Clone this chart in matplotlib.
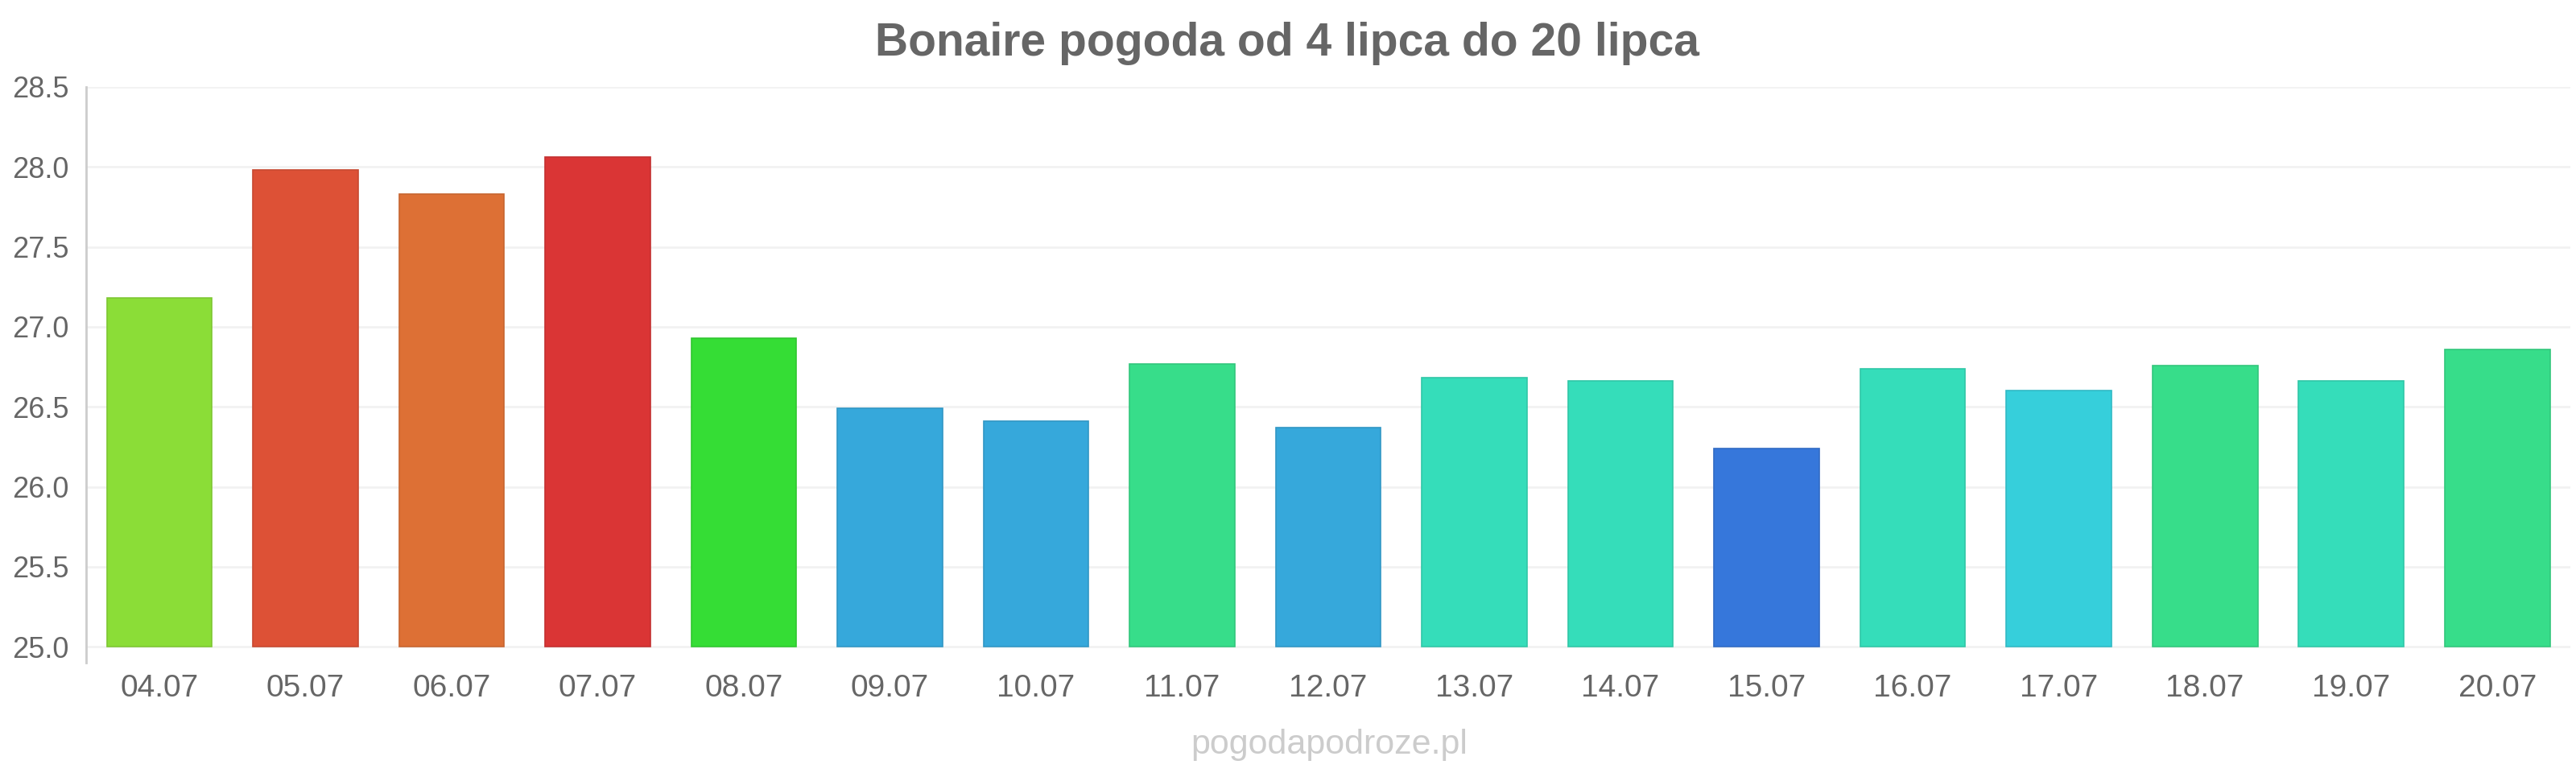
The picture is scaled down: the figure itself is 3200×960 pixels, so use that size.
import matplotlib.pyplot as plt
import matplotlib.colors as mcolors
import numpy as np

days = ['04.07', '05.07', '06.07', '07.07', '08.07', '09.07', '10.07', '11.07', '12.07',
        '13.07', '14.07', '15.07', '16.07', '17.07', '18.07', '19.07', '20.07']
temps = [27.18, 27.98, 27.83, 28.06, 26.93, 26.49, 26.41, 26.77, 26.37,
         26.68, 26.66, 26.24, 26.74, 26.60, 26.76, 26.66, 26.86]
colors = ['#8bdd37', '#dd5136', '#dd7035', '#da3535', '#35dd35', '#36a8db', '#36a8db',
          '#37dd8a', '#36a8db', '#35ddba', '#35ddba', '#3677db', '#35ddba', '#36cfdb',
          '#37dd8a', '#35ddba', '#37dd8a']
y_ticks = [25.0, 25.5, 26.0, 26.5, 27.0, 27.5, 28.0, 28.5]

title = 'Bonaire pogoda od 4 lipca do 20 lipca'
watermark = 'pogodapodroze.pl'

plt.rcParams['font.family'] = ['Liberation Sans', 'DejaVu Sans']

fig = plt.figure(figsize=(32, 9.6), dpi=100)
ax = fig.add_axes([0.0335, 0.1427, 0.9643, 0.7448])

base = 25.0
x = np.arange(len(days))
edges = [tuple(c * 0.9 for c in mcolors.to_rgb(col)) for col in colors]
ax.bar(x, [t - base for t in temps], bottom=base, width=0.72,
       color=colors, edgecolor=edges, linewidth=1.2, zorder=3)

ax.set_xlim(-0.5, len(days) - 0.5)
ax.set_ylim(24.9, 28.5)
ax.set_yticks(y_ticks)
ax.set_yticklabels([f'{v:.1f}' for v in y_ticks])
ax.set_xticks(x)
ax.set_xticklabels(days)

ax.grid(axis='y', color='#f2f2f2', linewidth=2, zorder=0)
ax.tick_params(axis='both', length=0, labelcolor='#666666')
ax.tick_params(axis='y', pad=15.5, labelsize=26)
ax.tick_params(axis='x', pad=10, labelsize=28)

for side in ['top', 'right', 'bottom']:
    ax.spines[side].set_visible(False)
ax.spines['left'].set_color('#cccccc')
ax.spines['left'].set_linewidth(2)

fig.text(0.4997, 0.944, title, ha='center', va='center', fontsize=41,
         fontweight='bold', color='#666666')
fig.text(0.516, 0.036, watermark, ha='center', va='center', fontsize=31,
         color='#cccccc')

fig.savefig('out.png', dpi=100, facecolor='white')
